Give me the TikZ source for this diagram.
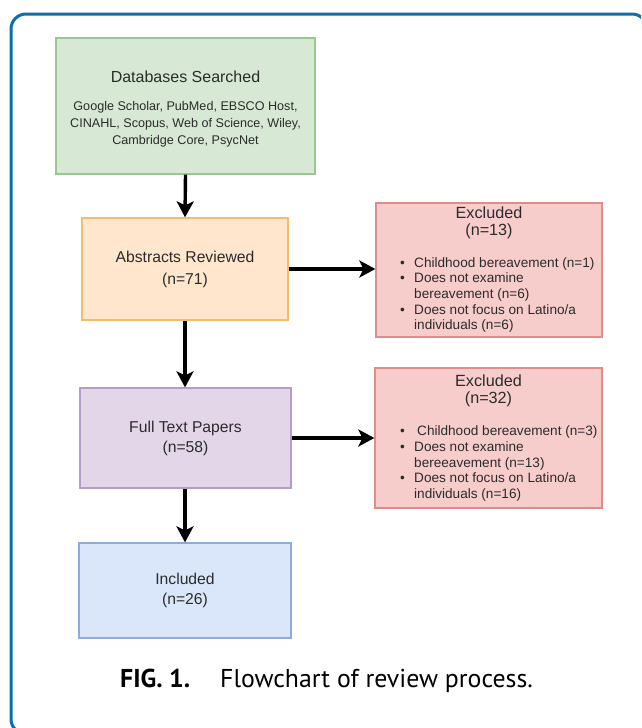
\documentclass[tikz,border=0pt]{standalone}
\usepackage{fontspec}
\setmainfont{Liberation Sans}
\newfontfamily\capfont{PT Sans}
\usetikzlibrary{arrows.meta}
\definecolor{frameblue}{HTML}{0A6EAF}
\definecolor{txt}{HTML}{2B2B2B}
\definecolor{gfill}{HTML}{D7E9D5}\definecolor{gdraw}{HTML}{98C98C}
\definecolor{ofill}{HTML}{FFE6CC}\definecolor{odraw}{HTML}{F2BE6E}
\definecolor{rfill}{HTML}{F7CDCC}\definecolor{rdraw}{HTML}{E28C8A}
\definecolor{pfill}{HTML}{E2D6E8}\definecolor{pdraw}{HTML}{B49DC6}
\definecolor{bfill}{HTML}{DAE7FB}\definecolor{bdraw}{HTML}{8DACDB}
\tikzset{
  box/.style={rectangle, line width=1.3pt, inner sep=0pt, align=center, text=txt,
    font=\fontsize{15.7}{20}\selectfont},
  gbox/.style={box, fill=gfill, draw=gdraw},
  obox/.style={box, fill=ofill, draw=odraw},
  rbox/.style={box, fill=rfill, draw=rdraw},
  pbox/.style={box, fill=pfill, draw=pdraw},
  bbox/.style={box, fill=bfill, draw=bdraw},
  lbl/.style={inner sep=0pt, text=txt, align=center},
  listtxt/.style={inner sep=0pt, text=txt, align=left, anchor=west,
    font=\fontsize{13.6}{15.6}\selectfont},
  flow/.style={line width=3.4pt, -{Stealth[length=16pt,width=17pt,inset=4pt]}, black},
}
\newcommand{\bul}{\makebox[14pt][l]{\textbullet}}
\begin{document}
\begin{tikzpicture}[x=1pt,y=-1pt]
\useasboundingbox (0,0) rectangle (641,728);
\fill[white] (0,0) rectangle (641,728);
\begin{scope}
\clip (0,0) rectangle (641,728);
\draw[frameblue, line width=3pt, rounded corners=15pt] (11,14) rectangle (647,734);
\end{scope}
% boxes
\node[gbox, minimum width=259pt, minimum height=136pt] (db) at (185.5,106) {};
\node[lbl, font=\fontsize{16}{20}\selectfont] (dbt) at (185.5,77) {Databases Searched};
\node[lbl, font=\fontsize{12.6}{17}\selectfont] (dbl) at (185.5,124)
  {Google Scholar, PubMed, EBSCO Host,\\CINAHL, Scopus, Web of Science, Wiley,\\Cambridge Core, PsycNet};
\node[obox, minimum width=206pt, minimum height=102pt, font=\fontsize{15.7}{22}\selectfont] (abs) at (185,269) {Abstracts Reviewed\\(n=71)};
\node[pbox, minimum width=211pt, minimum height=100pt] (ft) at (185.5,438) {Full Text Papers\\(n=58)};
\node[bbox, minimum width=212pt, minimum height=95pt, font=\fontsize{15.7}{19.5}\selectfont] (inc) at (185,590.5) {Included\\(n=26)};
\node[rbox, minimum width=226pt, minimum height=134pt] (ex1) at (489,270) {};
\node[lbl, font=\fontsize{16.2}{17}\selectfont] (ex1t) at (489,222.5) {Excluded\\(n=13)};
\node[listtxt] (ex1l) at (400,295)
  {\bul Childhood bereavement (n=1)\\
   \bul Does not examine\\
   \hspace*{14pt}bereavement (n=6)\\
   \bul Does not focus on Latino/a\\
   \hspace*{14pt}individuals (n=6)};
\node[rbox, minimum width=227pt, minimum height=140pt] (ex2) at (488.5,438) {};
\node[lbl, font=\fontsize{16.2}{17}\selectfont] (ex2t) at (488.5,390.5) {Excluded\\(n=32)};
\node[listtxt] (ex2l) at (400,463.5)
  {\bul\hspace{3pt}Childhood bereavement (n=3)\\
   \bul Does not examine\\
   \hspace*{14pt}bereeavement (n=13)\\
   \bul Does not focus on Latino/a\\
   \hspace*{14pt}individuals (n=16)};
% arrows
\draw[flow] (db.south) -- (abs.north);
\draw[flow] (abs.east) -- (ex1.west |- abs.east);
\draw[flow] (abs.south) -- (ft.north -| abs.south);
\draw[flow] (ft.east) -- (ex2.west |- ft.east);
\draw[flow] (ft.south -| inc.north) -- (inc.north);
% caption
\node[inner sep=0pt, anchor=base west, text=black, font=\capfont\fontsize{25.8}{30}\selectfont] (cap) at (120,687)
  {\textbf{FIG. 1.}\hspace{30pt}Flowchart of review process.};
\end{tikzpicture}
\end{document}
